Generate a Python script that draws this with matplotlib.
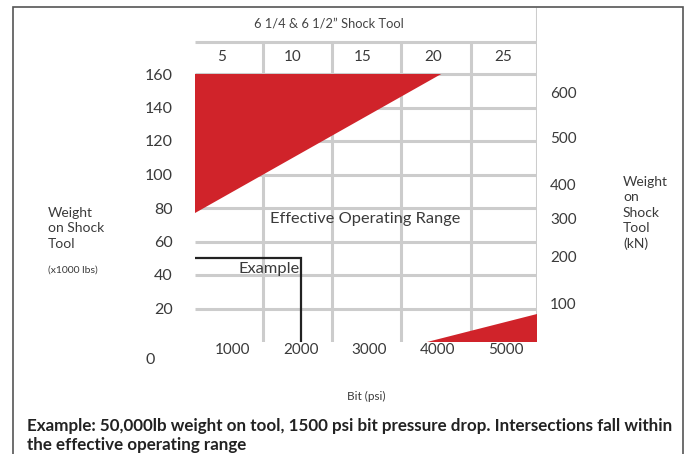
import matplotlib.pyplot as plt
from matplotlib.patches import Polygon, Rectangle

plt.rcParams['font.family'] = ['Lato', 'DejaVu Sans']

# bottom scale - bit pressure drop (psi)
psi_ticks = [1000, 2000, 3000, 4000, 5000]
# top scale - shock tool
top_ticks = [5, 10, 15, 20, 25]
# left scale - weight on shock tool (x1000 lbs)
lbs_ticks = [20, 40, 60, 80, 100, 120, 140, 160]
# right scale - kN labels, and where each sits on the lbs scale
kn_labels = ["100", "200", "300", "400", "500", "600"]
kn_at_lbs = [23, 51, 74, 94, 122, 149]

# grid
x_min, x_max = 450, 5450
cell_edges = [1450, 2450, 3460, 4480]
header_top = 179

# red zones outside the operating range
upper_x = [450, 4050, 450]
upper_y = [160, 160, 77]
lower_x = [3840, 5450, 5450]
lower_y = [0, 0, 17]

# worked example
example_lbs = 50
example_psi = 2000

RED = "#d0232a"
GRID = "#cccccc"
TXT = "#3a3a3a"

W, H = 691, 454
fig = plt.figure(figsize=(W / 100, H / 100), dpi=100)
ax = fig.add_axes([195 / W, 1 - 342 / H, (537 - 195) / W, (342 - 7) / H])
ax.set_xlim(x_min, x_max)
ax.set_ylim(0, 200)
for s in ax.spines.values():
    s.set_visible(False)

# gray grid
ax.hlines(lbs_ticks, x_min, x_max, color=GRID, lw=2.2, zorder=1)
ax.hlines(header_top, x_min, x_max, color=GRID, lw=2.2, zorder=1)
ax.vlines(cell_edges, 0, header_top, color=GRID, lw=2.2, zorder=1)
ax.vlines(x_max, 0, 200, color=GRID, lw=2.2, zorder=1)

# red zones
ax.add_patch(Polygon(list(zip(upper_x, upper_y)), closed=True, fc=RED, ec="none", zorder=2))
ax.add_patch(Polygon(list(zip(lower_x, lower_y)), closed=True, fc=RED, ec="none", zorder=2))

# example lines
ax.plot([x_min, example_psi, example_psi], [example_lbs, example_lbs, 0],
        color="#222222", lw=1.6, zorder=3, solid_joinstyle="miter")
ax.text(1530, 43.5, "Example", ha="center", va="center", fontsize=11.8, color=TXT, zorder=4)
ax.text(2940, 73.5, "Effective Operating Range", ha="center", va="center",
        fontsize=11.8, color=TXT, zorder=4)

# bottom axis
ax.set_xticks(psi_ticks)
ax.set_xticklabels([str(v) for v in psi_ticks])
ax.tick_params(axis="x", length=0, pad=1, labelsize=11, labelcolor=TXT)

# left axis
ax.set_yticks(lbs_ticks)
ax.set_yticklabels([str(v) for v in lbs_ticks])
ax.tick_params(axis="y", length=0, pad=16, labelsize=11.5, labelcolor=TXT)
ax.text(-0.132, -0.054, "0", transform=ax.transAxes, ha="center", va="center",
        fontsize=11.5, color=TXT)

# right axis (kN)
ax2 = ax.twinx()
ax2.set_ylim(ax.get_ylim())
ax2.set_yticks(kn_at_lbs)
ax2.set_yticklabels(kn_labels)
ax2.tick_params(axis="y", length=0, pad=9.5, labelsize=11, labelcolor=TXT)
for s in ax2.spines.values():
    s.set_visible(False)

# top axis (shock tool)
def top_to_psi(t):
    return 205.4 * t - 182

def psi_to_top(p):
    return (p + 182) / 205.4

sec = ax.secondary_xaxis(0.8, functions=(psi_to_top, top_to_psi))
sec.set_xticks(top_ticks)
sec.set_xticklabels([str(v) for v in top_ticks])
sec.tick_params(length=0, pad=7, labelsize=11, labelcolor=TXT)
for s in sec.spines.values():
    s.set_visible(False)

ax.text(0.39, 0.95, "6 1/4 & 6 1/2\u201d Shock Tool", transform=ax.transAxes,
        ha="center", va="center", fontsize=9.3, color="#444444")

ax.set_xlabel("Bit (psi)", fontsize=8.5, color=TXT, labelpad=24)

# side labels
fig.text(48 / W, 1 - 207 / H, "Weight\non Shock\nTool", ha="left", va="top",
         fontsize=10, color=TXT, linespacing=1.34)
fig.text(48 / W, 1 - 270 / H, "(x1000 lbs)", ha="left", va="center",
         fontsize=7.5, color=TXT)
fig.text(623 / W, 1 - 176 / H, "Weight\non\nShock\nTool\n(kN)", ha="left", va="top",
         fontsize=10, color=TXT, linespacing=1.34)

# caption
fig.text(27 / W, 1 - 418 / H,
         "Example: 50,000lb weight on tool, 1500 psi bit pressure drop. Intersections fall within\n"
         "the effective operating range",
         ha="left", va="top", fontsize=12.25, fontweight="bold", color="#222222",
         linespacing=1.22)

# outer frame
fig.patches.append(Rectangle((13 / W, -0.1), (683 - 13) / W, 1.1 - 7 / H,
                             transform=fig.transFigure, fill=False, ec="#555555", lw=1.2))

fig.savefig("out.png", dpi=100)
